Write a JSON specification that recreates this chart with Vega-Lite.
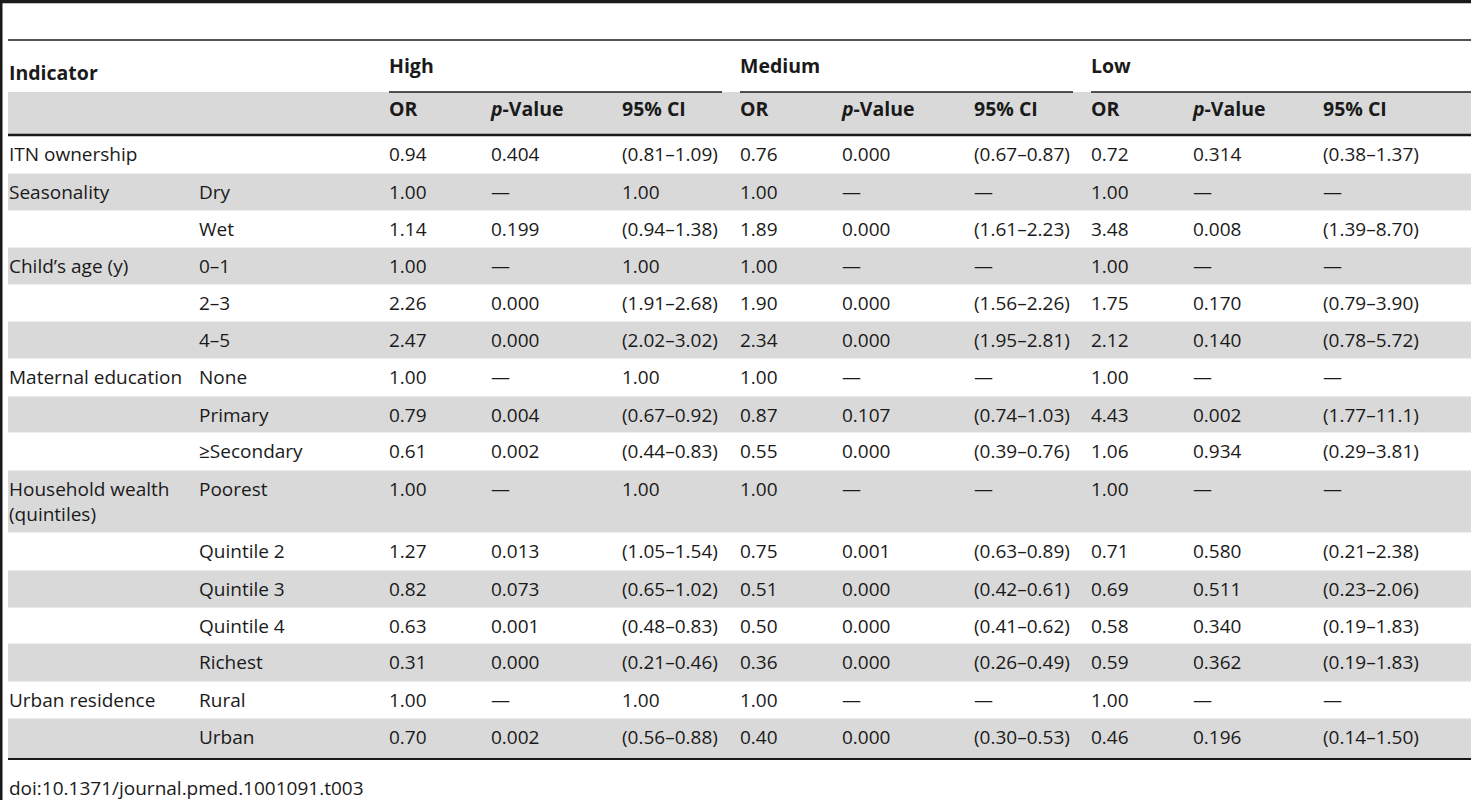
{
  "$schema": "https://vega.github.io/schema/vega-lite/v6.json",
  "width": 1471,
  "height": 800,
  "autosize": {"type": "none"},
  "padding": 0,
  "background": "white",
  "config": {
    "view": {"stroke": null},
    "text": {"font": "Open Sans", "fontSize": 19, "color": "#1a1a1a", "align": "left", "baseline": "alphabetic"},
    "rule": {"color": "#1a1a1a"}
  },
  "datasets": {
    "rows": [
      {"r": 0, "ind": "ITN ownership", "cat": "", "hor": "0.94", "hp": "0.404", "hci": "(0.81–1.09)", "mor": "0.76", "mp": "0.000", "mci": "(0.67–0.87)", "lor": "0.72", "lp": "0.314", "lci": "(0.38–1.37)"},
      {"r": 1, "ind": "Seasonality", "cat": "Dry", "hor": "1.00", "hp": "—", "hci": "1.00", "mor": "1.00", "mp": "—", "mci": "—", "lor": "1.00", "lp": "—", "lci": "—"},
      {"r": 2, "ind": "", "cat": "Wet", "hor": "1.14", "hp": "0.199", "hci": "(0.94–1.38)", "mor": "1.89", "mp": "0.000", "mci": "(1.61–2.23)", "lor": "3.48", "lp": "0.008", "lci": "(1.39–8.70)"},
      {"r": 3, "ind": "Child’s age (y)", "cat": "0–1", "hor": "1.00", "hp": "—", "hci": "1.00", "mor": "1.00", "mp": "—", "mci": "—", "lor": "1.00", "lp": "—", "lci": "—"},
      {"r": 4, "ind": "", "cat": "2–3", "hor": "2.26", "hp": "0.000", "hci": "(1.91–2.68)", "mor": "1.90", "mp": "0.000", "mci": "(1.56–2.26)", "lor": "1.75", "lp": "0.170", "lci": "(0.79–3.90)"},
      {"r": 5, "ind": "", "cat": "4–5", "hor": "2.47", "hp": "0.000", "hci": "(2.02–3.02)", "mor": "2.34", "mp": "0.000", "mci": "(1.95–2.81)", "lor": "2.12", "lp": "0.140", "lci": "(0.78–5.72)"},
      {"r": 6, "ind": "Maternal education", "cat": "None", "hor": "1.00", "hp": "—", "hci": "1.00", "mor": "1.00", "mp": "—", "mci": "—", "lor": "1.00", "lp": "—", "lci": "—"},
      {"r": 7, "ind": "", "cat": "Primary", "hor": "0.79", "hp": "0.004", "hci": "(0.67–0.92)", "mor": "0.87", "mp": "0.107", "mci": "(0.74–1.03)", "lor": "4.43", "lp": "0.002", "lci": "(1.77–11.1)"},
      {"r": 8, "ind": "", "cat": "≥Secondary", "hor": "0.61", "hp": "0.002", "hci": "(0.44–0.83)", "mor": "0.55", "mp": "0.000", "mci": "(0.39–0.76)", "lor": "1.06", "lp": "0.934", "lci": "(0.29–3.81)"},
      {"r": 9, "ind": "Household wealth\n(quintiles)", "cat": "Poorest", "hor": "1.00", "hp": "—", "hci": "1.00", "mor": "1.00", "mp": "—", "mci": "—", "lor": "1.00", "lp": "—", "lci": "—"},
      {"r": 10, "ind": "", "cat": "Quintile 2", "hor": "1.27", "hp": "0.013", "hci": "(1.05–1.54)", "mor": "0.75", "mp": "0.001", "mci": "(0.63–0.89)", "lor": "0.71", "lp": "0.580", "lci": "(0.21–2.38)"},
      {"r": 11, "ind": "", "cat": "Quintile 3", "hor": "0.82", "hp": "0.073", "hci": "(0.65–1.02)", "mor": "0.51", "mp": "0.000", "mci": "(0.42–0.61)", "lor": "0.69", "lp": "0.511", "lci": "(0.23–2.06)"},
      {"r": 12, "ind": "", "cat": "Quintile 4", "hor": "0.63", "hp": "0.001", "hci": "(0.48–0.83)", "mor": "0.50", "mp": "0.000", "mci": "(0.41–0.62)", "lor": "0.58", "lp": "0.340", "lci": "(0.19–1.83)"},
      {"r": 13, "ind": "", "cat": "Richest", "hor": "0.31", "hp": "0.000", "hci": "(0.21–0.46)", "mor": "0.36", "mp": "0.000", "mci": "(0.26–0.49)", "lor": "0.59", "lp": "0.362", "lci": "(0.19–1.83)"},
      {"r": 14, "ind": "Urban residence", "cat": "Rural", "hor": "1.00", "hp": "—", "hci": "1.00", "mor": "1.00", "mp": "—", "mci": "—", "lor": "1.00", "lp": "—", "lci": "—"},
      {"r": 15, "ind": "", "cat": "Urban", "hor": "0.70", "hp": "0.002", "hci": "(0.56–0.88)", "mor": "0.40", "mp": "0.000", "mci": "(0.30–0.53)", "lor": "0.46", "lp": "0.196", "lci": "(0.14–1.50)"}
    ],
    "cols": [
      {"key": "ind", "c": 0, "top": "Indicator", "head": ""},
      {"key": "cat", "c": 1, "top": "", "head": ""},
      {"key": "hor", "c": 2, "top": "High", "head": "OR"},
      {"key": "hp", "c": 3, "top": "", "head": "p-Value"},
      {"key": "hci", "c": 4, "top": "", "head": "95% CI"},
      {"key": "mor", "c": 5, "top": "Medium", "head": "OR"},
      {"key": "mp", "c": 6, "top": "", "head": "p-Value"},
      {"key": "mci", "c": 7, "top": "", "head": "95% CI"},
      {"key": "lor", "c": 8, "top": "Low", "head": "OR"},
      {"key": "lp", "c": 9, "top": "", "head": "p-Value"},
      {"key": "lci", "c": 10, "top": "", "head": "95% CI"}
    ],
    "notes": [{"t": "doi:10.1371/journal.pmed.1001091.t003"}]
  },
  "layer": [
    {
      "data": {"values": [{}]},
      "mark": {"type": "rect", "color": "#d9d9d9"},
      "encoding": {
        "x": {"datum": -1, "type": "quantitative", "axis": null, "scale": {"domain": [-2,-1,0,1,2,3,4,5,6,7,8,9,10,11], "range": [0,8,9,199,389,491,622,740,842,974,1091,1193,1323,1471], "zero": false, "nice": false}},
        "x2": {"datum": 11},
        "y": {"datum": -1, "type": "quantitative", "axis": null, "scale": {"domain": [-3,-2,-1,0,1,2,3,4,5,6,7,8,9,10,11,12,13,14,15,16,17,18], "range": [1.5,40,92,135,173,210,247,284,321,358,396,432,470,532,570,607,643,681,718,759,769,800], "zero": false, "nice": false}},
        "y2": {"datum": 0}
      }
    },
    {
      "data": {"name": "rows"},
      "transform": [{"filter": "datum.r % 2 == 1"}],
      "mark": {"type": "rect", "color": "#d9d9d9"},
      "encoding": {
        "x": {"datum": -1, "type": "quantitative", "axis": null, "scale": {"domain": [-2,-1,0,1,2,3,4,5,6,7,8,9,10,11], "range": [0,8,9,199,389,491,622,740,842,974,1091,1193,1323,1471], "zero": false, "nice": false}},
        "x2": {"datum": 11},
        "y": {"field": "r", "type": "quantitative", "bin": {"step": 1, "extent": [-3, 18]}, "axis": null, "scale": {"domain": [-3,-2,-1,0,1,2,3,4,5,6,7,8,9,10,11,12,13,14,15,16,17,18], "range": [1.5,40,92,135,173,210,247,284,321,358,396,432,470,532,570,607,643,681,718,759,769,800], "zero": false, "nice": false}}
      }
    },
    {
      "data": {"values": [{}]},
      "mark": {"type": "rule", "strokeWidth": 3.5},
      "encoding": {"x": {"datum": -2, "type": "quantitative"}, "x2": {"datum": 11}, "y": {"datum": -3, "type": "quantitative"}}
    },
    {
      "data": {"values": [{}]},
      "mark": {"type": "rule", "strokeWidth": 1.5},
      "encoding": {"x": {"datum": -1, "type": "quantitative"}, "x2": {"datum": 11}, "y": {"datum": -2, "type": "quantitative"}}
    },
    {
      "data": {"values": [{}]},
      "mark": {"type": "rule", "strokeWidth": 1.5, "x2Offset": -18},
      "encoding": {"x": {"datum": 2, "type": "quantitative"}, "x2": {"datum": 5}, "y": {"datum": -1, "type": "quantitative"}}
    },
    {
      "data": {"values": [{}]},
      "mark": {"type": "rule", "strokeWidth": 1.5, "x2Offset": -18},
      "encoding": {"x": {"datum": 5, "type": "quantitative"}, "x2": {"datum": 8}, "y": {"datum": -1, "type": "quantitative"}}
    },
    {
      "data": {"values": [{}]},
      "mark": {"type": "rule", "strokeWidth": 1.5},
      "encoding": {"x": {"datum": 8, "type": "quantitative"}, "x2": {"datum": 11}, "y": {"datum": -1, "type": "quantitative"}}
    },
    {
      "data": {"values": [{}]},
      "mark": {"type": "rule", "strokeWidth": 2.5},
      "encoding": {"x": {"datum": -1, "type": "quantitative"}, "x2": {"datum": 11}, "y": {"datum": 0, "type": "quantitative"}}
    },
    {
      "data": {"values": [{}]},
      "mark": {"type": "rule", "strokeWidth": 2},
      "encoding": {"x": {"datum": -1, "type": "quantitative"}, "x2": {"datum": 11}, "y": {"datum": 16, "type": "quantitative"}}
    },
    {
      "data": {"values": [{}]},
      "mark": {"type": "rule", "strokeWidth": 5},
      "encoding": {"x": {"datum": -2, "type": "quantitative"}, "y": {"datum": -3, "type": "quantitative"}, "y2": {"datum": 18}}
    },
    {
      "data": {"name": "rows"},
      "transform": [
        {"fold": ["ind", "cat", "hor", "hp", "hci", "mor", "mp", "mci", "lor", "lp", "lci"], "as": ["key", "t"]},
        {"lookup": "key", "from": {"data": {"name": "cols"}, "key": "key", "fields": ["c"]}}
      ],
      "mark": {"type": "text", "dy": 26, "lineBreak": "\n", "lineHeight": 25},
      "encoding": {
        "x": {"field": "c", "type": "quantitative"},
        "y": {"field": "r", "type": "quantitative"},
        "text": {"field": "t", "type": "nominal"}
      }
    },
    {
      "data": {"name": "cols"},
      "transform": [{"filter": "datum.c == 0"}],
      "mark": {"type": "text", "dy": 40, "fontWeight": "bold", "fontSize": 19.5},
      "encoding": {"x": {"field": "c", "type": "quantitative"}, "y": {"datum": -2, "type": "quantitative"}, "text": {"field": "top", "type": "nominal"}}
    },
    {
      "data": {"name": "cols"},
      "transform": [{"filter": "datum.c > 0 && datum.top != ''"}],
      "mark": {"type": "text", "dy": 33, "fontWeight": "bold", "fontSize": 19.5},
      "encoding": {"x": {"field": "c", "type": "quantitative"}, "y": {"datum": -2, "type": "quantitative"}, "text": {"field": "top", "type": "nominal"}}
    },
    {
      "data": {"name": "cols"},
      "transform": [{"filter": "datum.head == 'OR' || datum.head == '95% CI'"}],
      "mark": {"type": "text", "dy": 24, "fontWeight": "bold", "fontSize": 19.5},
      "encoding": {"x": {"field": "c", "type": "quantitative"}, "y": {"datum": -1, "type": "quantitative"}, "text": {"field": "head", "type": "nominal"}}
    },
    {
      "data": {"name": "cols"},
      "transform": [{"filter": "datum.head == 'p-Value'"}],
      "mark": {"type": "text", "dy": 24, "fontWeight": "bold", "fontStyle": "italic", "fontSize": 19.5},
      "encoding": {"x": {"field": "c", "type": "quantitative"}, "y": {"datum": -1, "type": "quantitative"}, "text": {"value": "p"}}
    },
    {
      "data": {"name": "cols"},
      "transform": [{"filter": "datum.head == 'p-Value'"}],
      "mark": {"type": "text", "dy": 24, "dx": 11.5, "fontWeight": "bold", "fontSize": 19.5},
      "encoding": {"x": {"field": "c", "type": "quantitative"}, "y": {"datum": -1, "type": "quantitative"}, "text": {"value": "-Value"}}
    },
    {
      "data": {"name": "notes"},
      "mark": {"type": "text", "dy": 26},
      "encoding": {"x": {"datum": 0, "type": "quantitative"}, "y": {"datum": 17, "type": "quantitative"}, "text": {"field": "t", "type": "nominal"}}
    }
  ]
}
